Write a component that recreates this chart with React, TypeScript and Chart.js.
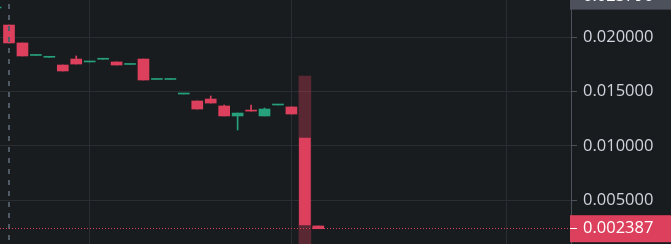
import { useEffect, useRef } from "react";
import { Chart, registerables } from "chart.js";

Chart.register(...registerables);

// Candle slots (bar index on the time axis) and OHLC values
const slots = [-1, 0, 1, 2, 3, 4, 5, 6, 7, 8, 9, 10, 11, 12, 13, 14, 15, 16, 17, 18, 19, 20, 21, 22, 23];
const opens = [0.0227, 0.02113, 0.01948, 0.01833, 0.01816, 0.01745, 0.018, 0.01773, 0.01798, 0.01773, 0.0175, 0.018, 0.01612, 0.01612, 0.01478, 0.01414, 0.01432, 0.01368, 0.01276, 0.01323, 0.01276, 0.01377, 0.01359, 0.01073, 0.00264];
const highs = [0.0227, 0.02113, 0.01948, 0.01833, 0.01816, 0.01745, 0.01828, 0.01773, 0.01798, 0.01773, 0.0175, 0.018, 0.01612, 0.01612, 0.01478, 0.01414, 0.0146, 0.01377, 0.01303, 0.01377, 0.01349, 0.01377, 0.01359, 0.01644, 0.00264];
const lows = [0.0227, 0.01948, 0.01828, 0.01833, 0.01816, 0.0169, 0.01754, 0.01773, 0.01798, 0.01745, 0.0175, 0.01607, 0.01612, 0.01612, 0.01478, 0.0134, 0.01395, 0.01276, 0.01147, 0.01321, 0.01276, 0.01377, 0.01294, 0.0005, 0.002387];
const closes = [0.0227, 0.01948, 0.01828, 0.01833, 0.01816, 0.0169, 0.01754, 0.01773, 0.01798, 0.01745, 0.0175, 0.01607, 0.01612, 0.01612, 0.01478, 0.0134, 0.01395, 0.01276, 0.01303, 0.01321, 0.0134, 0.01377, 0.01294, 0.00273, 0.002387];

const priceTicks = [0.005, 0.01, 0.015, 0.02];
const sessionBreaks = [6, 21, 37];
const lastPrice = 0.002387;
const crosshairPrice = 0.02379;
const focusSlot = 22;
const markerSlot = 0;

const BG = "#181c1f";
const GRID = "#2a2e33";
const AXIS = "#4c525c";
const TEXT = "#d1d4dc";
const UP = "#26a17b";
const DOWN = "#dd405c";
const FONT = '"Open Sans", "Noto Sans", sans-serif';
const FONT_SIZE = 16.5;

const candleColor = (i: number) => (closes[i] >= opens[i] ? UP : DOWN);

const overlays = {
  id: "overlays",
  afterDatasetsDraw(chart: any) {
    const { ctx, chartArea, scales } = chart;
    const x = scales.x;
    const y = scales.y;
    ctx.save();
    // dashed marker through the first session candle
    const mx = x.getPixelForValue(markerSlot);
    ctx.strokeStyle = "#505a65";
    ctx.lineWidth = 2;
    ctx.setLineDash([5, 6]);
    ctx.lineDashOffset = 7;
    ctx.beginPath();
    ctx.moveTo(mx, chartArea.top);
    ctx.lineTo(mx, chartArea.bottom);
    ctx.stroke();
    // dotted last-price line
    const py = Math.floor(y.getPixelForValue(lastPrice)) + 0.5;
    ctx.strokeStyle = DOWN;
    ctx.lineWidth = 1;
    ctx.setLineDash([1, 2]);
    ctx.lineDashOffset = 0;
    ctx.beginPath();
    ctx.moveTo(chartArea.left, py);
    ctx.lineTo(chartArea.right, py);
    ctx.stroke();
    ctx.restore();
  },
  afterDraw(chart: any) {
    const { ctx, chartArea, scales, width } = chart;
    const y = scales.y;
    const boxH = 27;
    const drawLabel = (value: number, fill: string, tick: boolean) => {
      const cy = y.getPixelForValue(value);
      ctx.save();
      ctx.fillStyle = fill;
      ctx.fillRect(chartArea.right - 1, cy - boxH / 2, width - chartArea.right + 1, boxH);
      if (tick) {
        ctx.fillStyle = "#ffffff";
        ctx.fillRect(chartArea.right - 1, Math.floor(cy), 7, 1);
      }
      ctx.fillStyle = "#ffffff";
      ctx.font = `${FONT_SIZE}px ${FONT}`;
      ctx.textAlign = "left";
      ctx.textBaseline = "middle";
      ctx.fillText(value.toFixed(6), chartArea.right + 12, cy);
      ctx.restore();
    };
    drawLabel(crosshairPrice, "#4c515b", false);
    drawLabel(lastPrice, DOWN, true);
  },
};

export default function App() {
  const ref = useRef<HTMLCanvasElement>(null);

  useEffect(() => {
    const bodies = slots.map((s, i) => ({ x: s, y: [opens[i], closes[i]] }));
    const wicks = slots.map((s, i) => ({ x: s, y: s === focusSlot ? null : [lows[i], highs[i]] }));
    const focus = slots.map((s, i) => ({ x: s, y: s === focusSlot ? [lows[i], highs[i]] : null }));

    const chart = new Chart(ref.current!, {
      type: "bar",
      data: {
        datasets: [
          {
            data: bodies as any,
            backgroundColor: slots.map((_, i) => candleColor(i)),
            barThickness: 11,
            minBarLength: 1,
            grouped: false,
            order: 0,
          },
          {
            data: wicks as any,
            backgroundColor: slots.map((_, i) => candleColor(i)),
            barThickness: 1,
            grouped: false,
            order: 1,
          },
          {
            data: focus as any,
            backgroundColor: "rgba(221, 64, 92, 0.34)",
            barThickness: 12,
            grouped: false,
            order: 2,
          },
        ],
      },
      options: {
        animation: false,
        responsive: false,
        devicePixelRatio: 1,
        layout: { padding: 0 },
        plugins: { legend: { display: false }, tooltip: { enabled: false } },
        events: [],
        scales: {
          x: {
            type: "linear",
            min: -0.669,
            max: 41.79,
            offset: false,
            afterBuildTicks: (s: any) => {
              s.ticks = sessionBreaks.map((v) => ({ value: v }));
            },
            afterFit: (s: any) => {
              s.height = 0;
              s.paddingLeft = 0;
              s.paddingRight = 0;
            },
            ticks: { display: false },
            grid: { color: GRID, drawTicks: false, lineWidth: 1, offset: false },
            border: { display: false },
          },
          y: {
            type: "linear",
            position: "right",
            min: 0.00098,
            max: 0.023432,
            afterBuildTicks: (s: any) => {
              s.ticks = priceTicks.map((v) => ({ value: v }));
            },
            afterFit: (s: any) => {
              s.width = 100;
              s.paddingTop = 0;
              s.paddingBottom = 0;
            },
            ticks: {
              callback: (v: any) => Number(v).toFixed(6),
              color: TEXT,
              font: { family: FONT, size: FONT_SIZE },
              padding: 6,
            },
            grid: { color: GRID, tickColor: AXIS, tickLength: 6, lineWidth: 1 },
            border: { color: AXIS, width: 1 },
          },
        },
      },
      plugins: [overlays],
    });
    return () => chart.destroy();
  }, []);

  return (
    <div style={{ position: "fixed", left: 0, top: 0, width: 671, height: 244, background: BG }}>
      <canvas ref={ref} width={671} height={244} style={{ display: "block", width: 671, height: 244 }} />
    </div>
  );
}
